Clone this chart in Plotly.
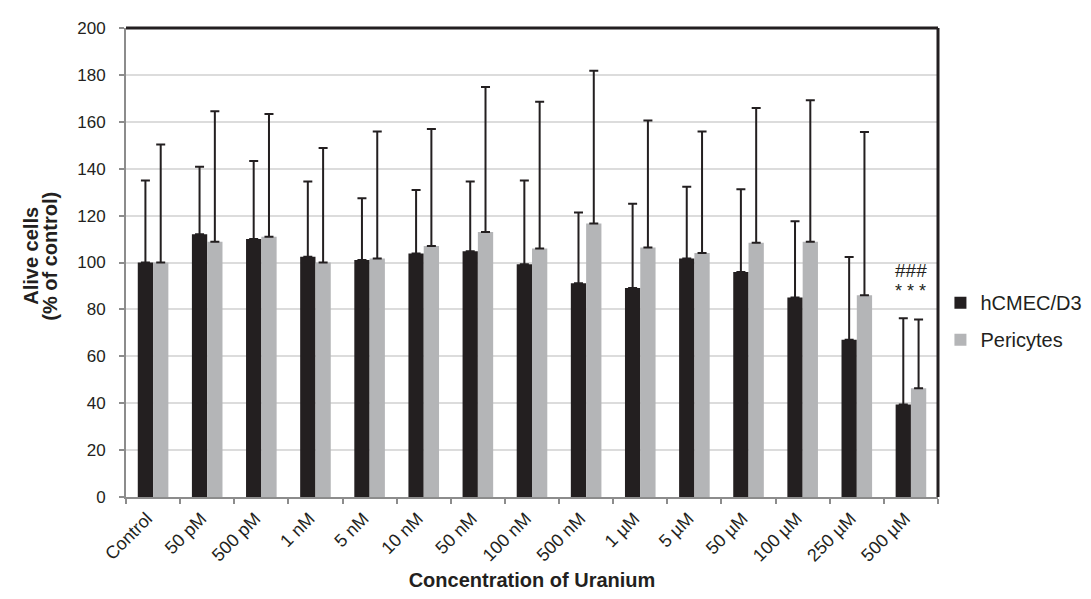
import plotly.graph_objects as go

categories = ["Control", "50 pM", "500 pM", "1 nM", "5 nM", "10 nM", "50 nM", "100 nM",
              "500 nM", "1 µM", "5 µM", "50 µM", "100 µM", "250 µM", "500 µM"]
hcmec_mean = [100, 112, 110, 102.5, 101.1, 103.8, 104.8, 99.3, 91.1, 89.1, 101.7, 96, 85.1, 67.1, 39.4]
hcmec_top = [135, 140.8, 143.3, 134.5, 127.4, 130.9, 134.5, 135, 121.3, 125.1, 132.3, 131.2, 117.6, 102.3, 76.2]
peri_mean = [100, 108.8, 111, 100, 101.7, 107, 113, 106, 116.6, 106.4, 104, 108.4, 108.9, 86, 46.4]
peri_top = [150.3, 164.5, 163.3, 148.8, 155.9, 156.9, 174.8, 168.5, 181.8, 160.6, 155.9, 165.9, 169.2, 155.6, 75.7]
y_ticks = [0, 20, 40, 60, 80, 100, 120, 140, 160, 180, 200]

hcmec_err = [t - m for t, m in zip(hcmec_top, hcmec_mean)]
peri_err = [t - m for t, m in zip(peri_top, peri_mean)]

FONT = "Liberation Sans, Arial, sans-serif"
INK = "#231f20"

fig = go.Figure()
fig.add_trace(go.Bar(
    x=categories, y=hcmec_mean, name="hCMEC/D3", legendgroup="a",
    marker=dict(color=INK, line=dict(width=0)),
    error_y=dict(type="data", array=hcmec_err, arrayminus=[0]*len(hcmec_err), symmetric=False,
                 color=INK, thickness=2, width=4.5),
))
fig.add_trace(go.Bar(
    x=categories, y=peri_mean, name="Pericytes", legendgroup="b",
    marker=dict(color="#b4b5b7", line=dict(width=0)),
    error_y=dict(type="data", array=peri_err, arrayminus=[0]*len(peri_err), symmetric=False,
                 color=INK, thickness=2, width=4.5),
))

fig.add_annotation(x="500 µM", y=96.5, text="###", showarrow=False,
                   font=dict(family=FONT, size=19, color=INK))
fig.add_annotation(x="500 µM", y=88, text="* * *", showarrow=False,
                   font=dict(family=FONT, size=18, color=INK))

# y-axis title as two tight lines
fig.add_annotation(xref="paper", yref="paper", x=-0.1172, y=0.514, text="<b>Alive cells</b>",
                   textangle=-90, showarrow=False, xanchor="center", yanchor="middle",
                   font=dict(family=FONT, size=20, color=INK))
fig.add_annotation(xref="paper", yref="paper", x=-0.0939, y=0.514, text="<b>(% of control)</b>",
                   textangle=-90, showarrow=False, xanchor="center", yanchor="middle",
                   font=dict(family=FONT, size=20, color=INK))

# frame top and right (thick black)
fig.add_shape(type="line", xref="paper", yref="paper", x0=0, x1=1, y0=1, y1=1,
              line=dict(color=INK, width=3))
fig.add_shape(type="line", xref="paper", yref="paper", x0=1, x1=1, y0=0, y1=1,
              line=dict(color=INK, width=3))

fig.update_layout(
    width=1091, height=599,
    margin=dict(l=118, r=158, t=20, b=110),
    paper_bgcolor="white", plot_bgcolor="white",
    barmode="group", bargap=0.435, bargroupgap=0,
    font=dict(family=FONT, size=17, color=INK),
    showlegend=True,
    legend=dict(x=1.003, y=0.375, xanchor="left", yanchor="middle",
                font=dict(family=FONT, size=20, color=INK),
                traceorder="grouped", itemwidth=30, tracegroupgap=8, bgcolor="rgba(0,0,0,0)"),
    xaxis=dict(
        title=dict(text="<b>Concentration of Uranium</b>", font=dict(family=FONT, size=20), standoff=8),
        tickangle=-45, tickfont=dict(family=FONT, size=18),
        ticklabelshift=-6, ticklabelstandoff=2,
        showline=True, linecolor="#8c8c8c", linewidth=2,
        ticks="outside", tickson="boundaries", ticklen=5, tickcolor="#8c8c8c", tickwidth=1.5,
        showgrid=False, mirror=False,
    ),
    yaxis=dict(
        range=[0, 200], tickvals=y_ticks, tickfont=dict(family=FONT, size=17),
        ticklabelstandoff=10,
        showline=True, linecolor="#8c8c8c", linewidth=2,
        ticks="outside", ticklen=5, tickcolor="#8c8c8c", tickwidth=1.5,
        showgrid=True, gridcolor="#dcdcdc", gridwidth=1.5, zeroline=False,
    ),
)

fig.write_html("out.html")
